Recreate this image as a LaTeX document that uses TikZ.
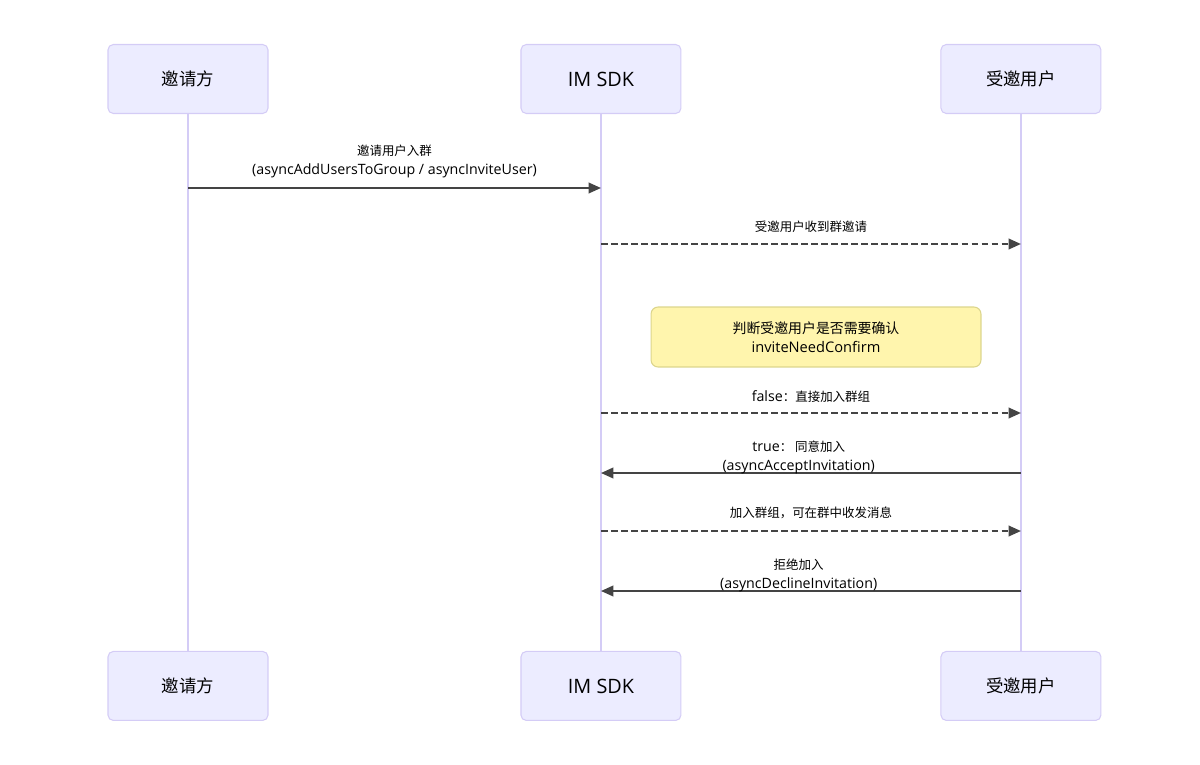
\documentclass[tikz,border=0pt]{standalone}
\usepackage{fontspec}
\setmainfont[Scale=1.14]{Open Sans}
\newfontfamily\cjk{Noto Sans CJK SC}
\usetikzlibrary{arrows.meta,positioning}
\definecolor{actorfill}{HTML}{ECECFF}
\definecolor{actorline}{HTML}{D4CCF6}
\definecolor{notefill}{HTML}{FFF5AD}
\definecolor{noteline}{HTML}{DCD58C}
\definecolor{msgline}{HTML}{444444}
\tikzset{>={Triangle[length=7pt,width=6pt]},x=0.02cm,y=-0.02cm}
\tikzset{actor/.style={draw=actorline,fill=actorfill,rounded corners=3pt,line width=0.6pt,
        minimum width=3.2cm,minimum height=1.38cm,font=\fontsize{9.9}{12}\selectfont}}
\tikzset{lifeline/.style={draw=actorline,line width=0.7pt}}
\tikzset{msg/.style={font=\fontsize{7.1}{10.8}\selectfont,align=center,text=black}}
\tikzset{call/.style={->,draw=msgline,line width=1.1pt}}
\tikzset{reply/.style={call,dash pattern=on 3.8pt off 1.9pt}}

\begin{document}
\begin{tikzpicture}
                \useasboundingbox (0,0) rectangle (1200,764);
                % participants
                \node[actor] (inv) at (188,79) {\cjk 邀请方};
                \node[actor] (sdk)  [right=5.04cm of inv]  {IM SDK};
                \node[actor] (usr)  [right=5.18cm of sdk]  {\cjk 受邀用户};
                \node[actor] (invB) [below=10.74cm of inv] {\cjk 邀请方};
                \node[actor] (sdkB) [below=10.74cm of sdk] {IM SDK};
                \node[actor] (usrB) [below=10.74cm of usr] {\cjk 受邀用户};
                \path[lifeline] (inv) -- (invB) (sdk) -- (sdkB) (usr) -- (usrB);
                % message rows
                \foreach \n/\y in {1/188,2/244,3/413,4/473,5/531,6/591}
                    \coordinate (y\n) at (0,\y);
                \node[draw=noteline,fill=notefill,rounded corners=4pt,line width=0.6pt,
                      minimum width=6.6cm,minimum height=1.2cm,align=center,
                      font=\fontsize{7.9}{10.8}\selectfont] (note) at (816,337)
                      {{\cjk 判断受邀用户是否需要确认}\\{\fontsize{7.3}{10.8}\selectfont inviteNeedConfirm}};
                \draw[call]  (inv |- y1) -- node[msg,yshift=15pt] {{\cjk 邀请用户入群}\\(asyncAddUsersToGroup / asyncInviteUser)} (sdk |- y1);
                \draw[reply] (sdk |- y2) -- node[msg,yshift=9.6pt] {\cjk 受邀用户收到群邀请} (usr |- y2);
                \draw[reply] (sdk |- y3) -- node[msg,yshift=9.6pt] {false{\cjk ：直接加入群组}} (usr |- y3);
                \draw[call]  (usr |- y4) -- node[msg,yshift=9.1pt,xshift=-7pt] {true{\cjk ： 同意加入}\\(asyncAcceptInvitation)} (sdk |- y4);
                \draw[reply] (sdk |- y5) -- node[msg,yshift=10.2pt] {\cjk 加入群组，可在群中收发消息} (usr |- y5);
                \draw[call]  (usr |- y6) -- node[msg,yshift=9.1pt,xshift=-7pt] {{\cjk 拒绝加入}\\(asyncDeclineInvitation)} (sdk |- y6);
            \end{tikzpicture}
\end{document}
